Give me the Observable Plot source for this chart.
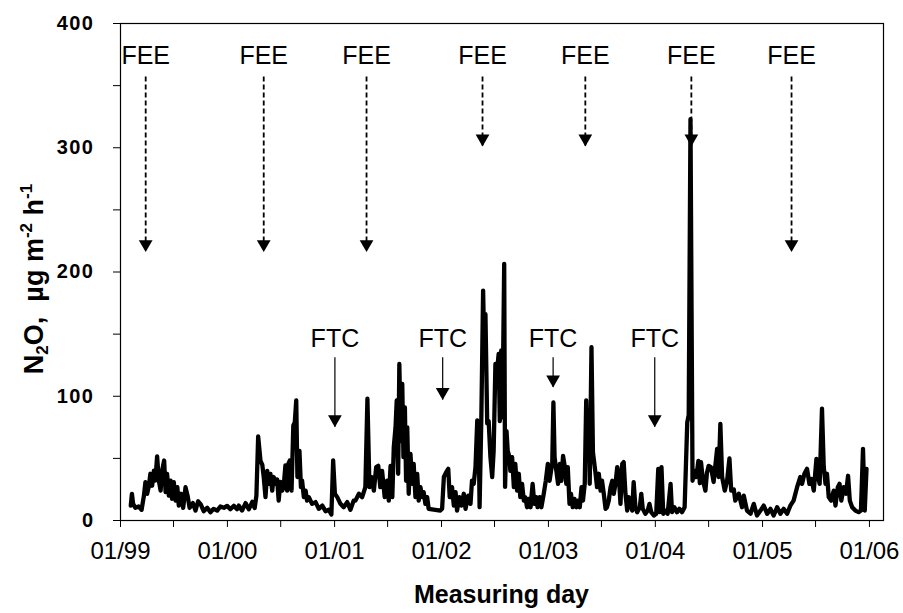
<!DOCTYPE html>
<html>
<head>
<meta charset="utf-8">
<script src="https://cdn.jsdelivr.net/npm/d3@7"></script>
<script src="https://cdn.jsdelivr.net/npm/@observablehq/plot@0.6"></script>
<style>
  body { margin: 0; background: #fff; }
  #chart svg { display: block; }
</style>
</head>
<body>
<div id="chart"></div>
<script>
// Measuring days are counted from 1 January 1999.
const startDate = Date.UTC(1999, 0, 1);

const measuringDays = [
  35, 39, 43, 51, 62, 72, 80, 85, 91, 97, 102, 108, 114, 119, 125, 131, 137, 142, 149, 154,
  159, 165, 171, 176, 182, 188, 194, 199, 207, 214, 222, 229, 236, 247, 256, 265, 274, 284, 296, 307,
  318, 330, 341, 353, 364, 375, 387, 398,
  404, 415, 427, 438, 450, 458, 464, 470, 478, 484, 489, 495, 501, 506, 512, 518, 523, 529, 535, 540,
  546, 552, 557, 563, 569, 573, 578, 584, 590, 595, 600, 604, 611, 616, 620, 626, 632, 637, 643, 654,
  666, 677, 689, 700, 711, 720, 726, 732, 740, 751, 762, 774, 785, 796,
  802, 814, 825, 836, 843, 850, 857, 865, 873, 880, 887, 893, 902, 910, 916, 922, 928, 933, 939, 943,
  948, 952, 957, 962, 966, 971, 975, 979, 984, 990, 996, 1001, 1007, 1013, 1018, 1024, 1030, 1035, 1041, 1047,
  1052, 1092, 1098, 1104, 1112, 1119, 1124, 1132, 1138, 1144, 1149, 1157, 1164, 1172, 1178, 1187, 1195,
  1200, 1206, 1212, 1218, 1223, 1226, 1232, 1238, 1242, 1246, 1252, 1257, 1263, 1269, 1274, 1280, 1286, 1291, 1295, 1300,
  1304, 1310, 1313, 1318, 1322, 1328, 1331, 1337, 1343, 1348, 1354, 1360, 1365, 1371, 1377, 1382, 1388, 1394, 1400, 1407,
  1413, 1419, 1424, 1431, 1437, 1445, 1452, 1459, 1465, 1470, 1474, 1478, 1482, 1488, 1494, 1500, 1505, 1511, 1517, 1522,
  1527, 1533, 1538, 1544, 1550, 1557, 1562, 1568, 1574, 1579, 1585, 1590, 1594, 1599, 1602, 1608,
  1613, 1622, 1627, 1633, 1639, 1644, 1650, 1656, 1661, 1667, 1673, 1679, 1684, 1690, 1696, 1701, 1707, 1713, 1718, 1724,
  1730, 1735, 1741, 1747, 1752, 1758, 1764, 1773, 1778, 1783, 1792, 1800, 1806, 1812, 1821, 1829, 1836, 1841, 1847, 1853,
  1860, 1868, 1878, 1883, 1891, 1900, 1908, 1917, 1926, 1935, 1940, 1946, 1953, 1959, 1966, 1973, 1978, 1982, 1988, 1997,
  2002, 2008, 2016, 2025, 2037, 2042, 2048, 2054, 2063, 2071, 2079, 2085, 2094, 2099, 2111, 2122, 2128, 2139, 2151, 2162,
  2173, 2185, 2196, 2208, 2219, 2230, 2242, 2253, 2264, 2276, 2287, 2298, 2310, 2321, 2327, 2335, 2344, 2352, 2359, 2367,
  2376, 2382, 2387, 2395, 2401, 2407, 2412, 2418, 2426, 2435, 2441, 2449, 2455, 2461, 2469, 2477, 2484, 2490, 2498, 2509,
  2520, 2528, 2535, 2541, 2547
];

// N2O flux, µg m-2 h-1
const n2oFlux = [
  12, 21.5, 13.4, 10.2, 11.3, 8.6, 20, 30.8, 21.5, 28, 37.6, 28, 40.2, 32.2, 51.5, 32, 24, 40, 48.3, 22.8,
  37.6, 20, 32, 17.4, 30.8, 16, 26.8, 12, 21.5, 10.2, 26.8, 20, 10.2, 14, 8, 15.5, 12.9, 7.5, 10.2, 6.7,
  9.4, 8, 11.3, 10.2, 11.8, 9.1, 11.8, 9.1,
  12, 8, 14, 9, 15, 10, 20, 67.6, 48, 45, 35, 18.8, 40, 29.5, 37.5, 24, 35, 29.5, 33, 16,
  31, 24, 26.8, 44.3, 24, 45.6, 48.3, 24, 76.5, 79, 96.6, 35, 56, 26.8, 32, 18.8, 24, 16, 18.8, 13.4,
  14.8, 9.4, 12, 7.5, 8.6, 4.8, 48.3, 21.5, 18.8, 13.4, 10.7, 14.8, 8.6, 16,
  16, 21.5, 18.8, 26.8, 98, 26.8, 35, 24, 43, 44, 26.8, 40, 18.8, 32, 16, 44, 18.8, 59, 75, 96.6,
  37.6, 126, 64, 110, 51, 91, 32, 75, 21.5, 53.6, 29.5, 45.6, 18.8, 37.6, 16, 26.8, 18.8, 22.8, 13.4, 18.8,
  9.4, 8, 9.4, 35, 39, 41.6, 18.8, 26.8, 12, 22.8, 8, 18.8, 12, 21.5, 9.4, 20, 13.4,
  32, 29.5, 43, 80.5, 69, 10.7, 83, 185, 137, 166, 78, 80, 51, 35, 56, 126, 121, 134, 80, 137,
  83, 206.6, 27, 72, 56, 51, 40, 51, 26.8, 45.6, 24, 37.6, 18.8, 29.5, 16, 18.8, 10.7, 17.4, 10.7, 29.5,
  13.4, 18.8, 10.7, 18.8, 10.7, 21.5, 32, 45.6, 32, 40, 45.6, 95, 51, 40, 29.5, 45.6, 32, 52, 43, 29.5,
  43, 13.4, 21.5, 10.7, 17.4, 10.7, 16, 10.7, 26.8, 16, 29.5, 96.6, 51, 88.5, 29.5, 139.5,
  55, 37.6, 26.8, 37.6, 24, 32, 21.5, 9.4, 10.7, 16, 26.8, 32, 21.5, 29.5, 43, 37.6, 13.4, 45.6, 47, 21.5,
  8, 18.8, 13.4, 8, 30.8, 10.7, 6.7, 10.7, 21.5, 9.4, 5.4, 8, 13.4, 6.7, 4, 5.4, 41.6, 6.7, 43, 5.4,
  8, 5.4, 29.5, 6.7, 10.7, 6.7, 9.4, 6.7, 10.7, 79, 85, 323, 32, 40, 35, 48, 30, 47, 33, 24,
  38, 44, 43, 31, 57.7, 35, 77.8, 35, 24, 32, 50, 24, 25, 16, 21.5, 10.7, 20, 8, 5.4, 13.4,
  4, 8, 12, 5.4, 9.4, 4, 10.7, 5.4, 9.4, 5.4, 12, 16, 26.8, 35, 29.5, 37.6, 41.6, 29.5, 33.5, 24,
  49.6, 35, 29.5, 90, 43, 29.5, 37.6, 18.8, 16, 24, 12, 26.8, 29.5, 16, 26.8, 21.5, 36, 16, 10.7, 8,
  6.7, 8, 57.7, 8, 41.6
];

// Fertilisation events (dashed arrows) and freeze-thaw cycles (solid arrows)
const feeDays = [86, 489, 840, 1236, 1587, 1949, 2291];
const feeArrowTips = [216, 216, 216, 301, 301, 301, 216];
const feeArrowTop = 357;
const feeLabelY = 374;
const feeLabel = "FEE";

const ftcDays = [732, 1100, 1477, 1824];
const ftcArrowTips = [75, 97, 107, 75];
const ftcArrowTop = 131;
const ftcLabelY = 146;
const ftcLabel = "FTC";

// Axes
const xTickLabels = ["01/99", "01/00", "01/01", "01/02", "01/03", "01/04", "01/05", "01/06"];
const yTickValues = [0, 100, 200, 300, 400];
const yMinorTicks = [50, 150, 250, 350];
const lastAxisDay = 2605;
const xTitle = "Measuring day";

const toDate = d => new Date(startDate + d * 864e5);
const series = measuringDays.map((d, i) => ({date: toDate(d), value: n2oFlux[i]}));
const fee = feeDays.map((d, i) => ({date: toDate(d), top: feeArrowTop, tip: feeArrowTips[i]}));
const ftc = ftcDays.map((d, i) => ({date: toDate(d), top: ftcArrowTop, tip: ftcArrowTips[i]}));

const labelDate = s => {
  const [m, y] = s.split("/").map(Number);
  return new Date(Date.UTC(y < 50 ? 2000 + y : 1900 + y, m - 1, 1));
};
const majorTicks = xTickLabels.map(labelDate);
const minorTicks = majorTicks.slice(0, -1).map(d => new Date(Date.UTC(d.getUTCFullYear(), 6, 1)));

const font = "'Liberation Sans', Arial, Helvetica, sans-serif";

const chart = Plot.plot({
  width: 903,
  height: 613,
  marginLeft: 120,
  marginRight: 20,
  marginTop: 23,
  marginBottom: 93,
  style: {fontFamily: font, background: "white", color: "black", overflow: "visible"},
  x: {type: "utc", domain: [toDate(0), toDate(lastAxisDay)]},
  y: {domain: [0, 400]},
  marks: [
    Plot.axisX({
      ticks: [...majorTicks, ...minorTicks],
      tickSize: 7,
      tickPadding: 14,
      fontSize: 24,
      label: null,
      tickFormat: d => {
        const i = majorTicks.findIndex(t => +t === +d);
        return i >= 0 ? xTickLabels[i] : "";
      }
    }),
    Plot.axisY({
      ticks: [...yTickValues, ...yMinorTicks],
      tickSize: 7,
      tickPadding: 19,
      fontSize: 20,
      fontWeight: "bold",
      label: null,
      tickFormat: d => yTickValues.includes(d) ? String(d) : ""
    }),
    Plot.frame({stroke: "black", strokeWidth: 1.2}),
    Plot.line(series, {x: "date", y: "value", stroke: "black", strokeWidth: 4.3, strokeLinejoin: "round", strokeLinecap: "round"}),
    // FEE arrows
    Plot.ruleX(fee, {x: "date", y1: "top", y2: "tip", stroke: "black", strokeWidth: 1.8, strokeDasharray: "5,3"}),
    Plot.dot(fee, {x: "date", y: "tip", symbol: "triangle", r: 5.1, rotate: 180, fill: "black", stroke: "none", dy: -8}),
    Plot.text(fee, {x: "date", y: () => feeLabelY, text: () => feeLabel, fontSize: 25, fill: "black"}),
    // FTC arrows
    Plot.ruleX(ftc, {x: "date", y1: "top", y2: "tip", stroke: "black", strokeWidth: 1.2}),
    Plot.dot(ftc, {x: "date", y: "tip", symbol: "triangle", r: 5.1, rotate: 180, fill: "black", stroke: "none", dy: -8}),
    Plot.text(ftc, {x: "date", y: () => ftcLabelY, text: () => ftcLabel, fontSize: 25, fill: "black"})
  ]
});

const svg = d3.select(chart);
svg.selectAll("g[aria-label='y-axis tick label'] text").attr("letter-spacing", "1.5px");

// Axis titles
svg.append("text")
  .attr("x", 501.5)
  .attr("y", 603)
  .attr("text-anchor", "middle")
  .attr("font-family", font)
  .attr("font-size", 25)
  .attr("font-weight", "bold")
  .attr("fill", "black")
  .text(xTitle);

const yTitle = svg.append("text")
  .attr("transform", "translate(43,279) rotate(-90)")
  .attr("text-anchor", "middle")
  .attr("font-family", font)
  .attr("font-size", 27)
  .attr("font-weight", "bold")
  .attr("fill", "black")
  .style("white-space", "pre");
yTitle.append("tspan").text("N");
yTitle.append("tspan").attr("font-size", 17).attr("dy", 5).text("2");
yTitle.append("tspan").attr("dy", -5).text("O,  \u00b5g m");
yTitle.append("tspan").attr("font-size", 17).attr("dy", -11).text("-2");
yTitle.append("tspan").attr("dy", 11).text(" h");
yTitle.append("tspan").attr("font-size", 17).attr("dy", -11).text("-1");

document.getElementById("chart").appendChild(chart);
</script>
</body>
</html>
